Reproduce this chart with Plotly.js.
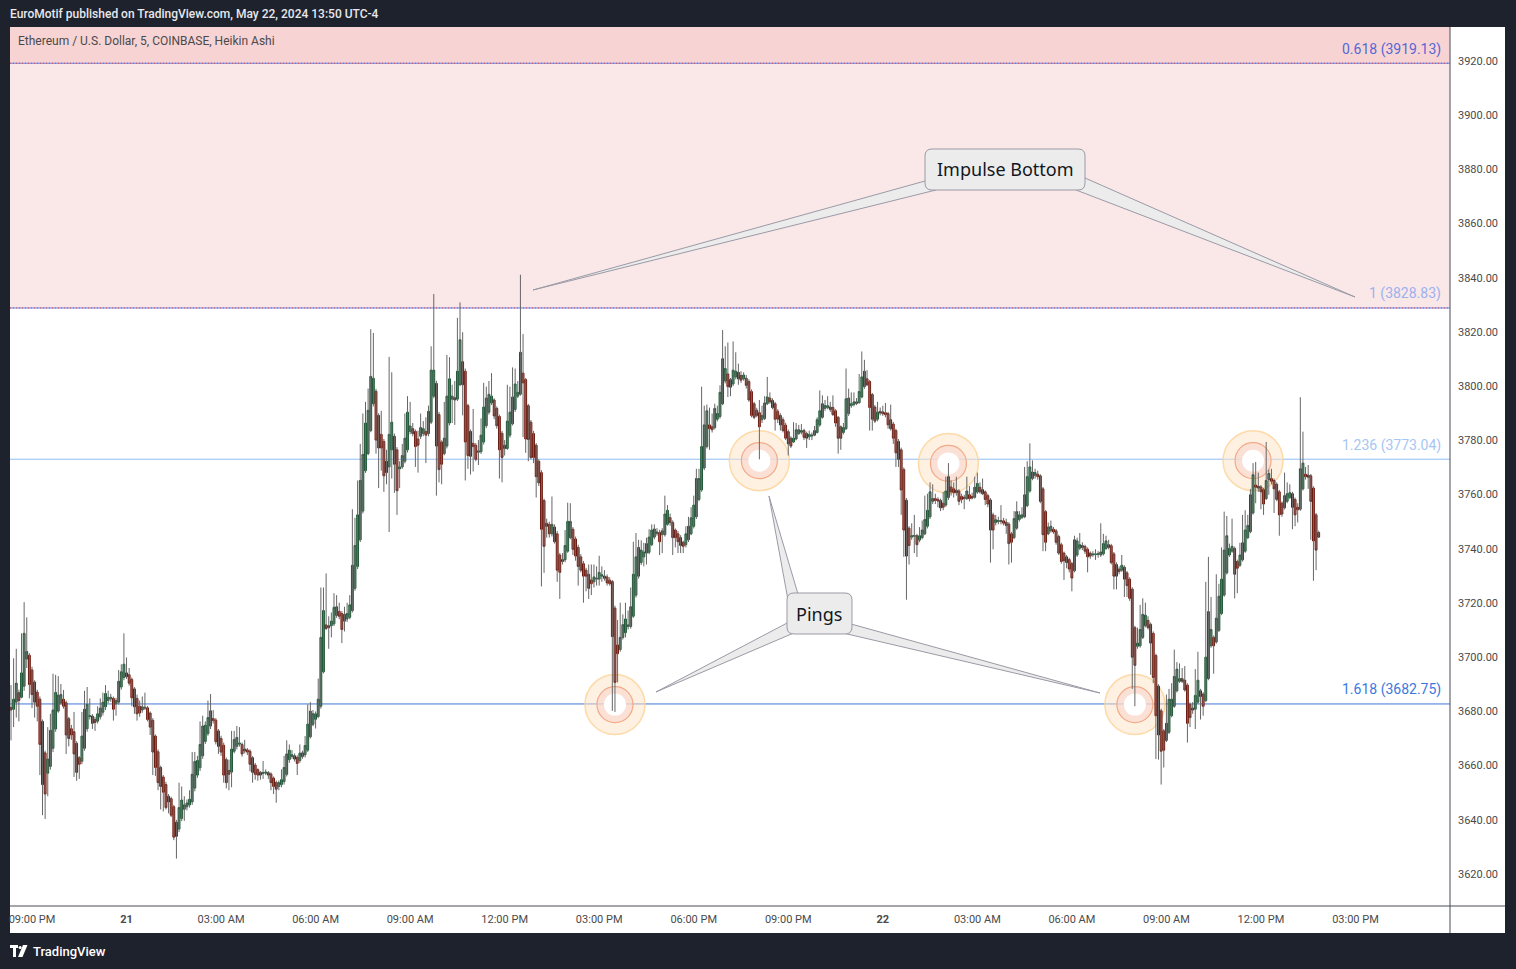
<!DOCTYPE html>
<html><head><meta charset="utf-8">
<script src="https://cdn.plot.ly/plotly-3.0.1.min.js"></script>
<style>html,body{margin:0;padding:0;background:#1e222d;overflow:hidden}#chart{width:1516px;height:969px}</style>
</head><body><div id="chart"></div>
<script>
// ---------------- DATA ----------------
const startTime = '2024-05-20T20:20:00Z';   // first 5-minute Heikin Ashi candle
const stepMinutes = 5;

const opens = [
3681.5,3680.8,3683.4,3686.9,3685.2,3689.3,3699.3,3700.7,3695.3,3690.8,
3687.1,3684.5,3676.3,3664.7,3657.2,3659.7,3666.4,3673.5,3680.1,3683.1,
3684.5,3683.2,3677.3,3673.6,3672.5,3668.2,3662.9,3661.6,3666.4,3673.6,
3678.1,3678.3,3677.0,3676.4,3678.0,3679.7,3681.7,3684.0,3684.6,3684.8,
3682.8,3683.4,3689.0,3692.5,3694.2,3693.5,3691.8,3688.3,3684.8,3681.9,
3680.5,3681.2,3681.3,3679.4,3676.7,3670.9,3665.1,3659.3,3655.8,3653.0,
3648.7,3647.8,3644.8,3639.1,3636.6,3640.5,3643.9,3644.8,3645.5,3646.6,
3651.7,3656.5,3659.2,3663.6,3668.9,3671.8,3674.6,3677.4,3676.8,3672.8,
3670.0,3667.5,3662.2,3658.2,3657.6,3665.3,3667.1,3667.9,3667.8,3666.1,
3665.8,3665.3,3662.9,3660.2,3658.5,3657.5,3657.1,3657.2,3657.4,3656.9,
3655.4,3653.8,3652.3,3653.0,3654.1,3656.8,3662.2,3663.4,3663.6,3663.0,
3661.9,3663.3,3664.0,3665.7,3670.6,3675.2,3677.1,3678.1,3681.9,3694.6,
3711.9,3711.6,3711.6,3712.3,3715.4,3716.9,3716.1,3713.3,3714.1,3714.7,
3717.2,3725.4,3733.5,3743.3,3753.9,3768.8,3775.1,3783.6,3793.5,3798.1,
3789.2,3782.2,3779.6,3772.3,3770.2,3776.5,3781.5,3776.5,3769.5,3770.2,
3772.3,3776.5,3783.3,3784.3,3783.3,3780.5,3781.5,3782.5,3783.3,3782.5,
3786.7,3796.3,3801.0,3789.5,3779.4,3775.1,3777.9,3786.4,3795.2,3795.7,
3795.2,3800.5,3809.0,3805.5,3792.8,3783.3,3778.9,3778.2,3775.6,3775.8,
3779.4,3785.4,3790.4,3793.8,3794.9,3791.8,3788.8,3782.6,3778.2,3777.0,
3781.9,3786.1,3791.4,3796.3,3797.0,3804.8,3802.4,3792.8,3786.7,3782.5,
3778.2,3772.3,3768.1,3757.8,3749.4,3749.0,3745.5,3748.0,3745.5,3737.7,
3736.0,3735.9,3739.1,3744.1,3747.2,3743.6,3740.5,3737.0,3734.5,3732.1,
3730.6,3728.5,3727.8,3728.8,3728.8,3729.9,3729.9,3729.6,3728.4,3727.9,
3718.1,3704.5,3702.8,3707.3,3709.0,3711.3,3711.3,3715.1,3722.9,3729.9,
3734.9,3737.0,3738.4,3738.7,3741.5,3744.3,3745.6,3746.0,3745.2,3745.2,
3749.0,3751.5,3749.7,3746.9,3745.5,3744.1,3742.4,3741.5,3743.3,3745.5,
3748.3,3751.8,3758.2,3761.7,3769.8,3777.7,3785.7,3785.0,3784.7,3787.8,
3788.8,3793.5,3801.9,3804.5,3802.4,3800.8,3803.4,3805.1,3803.9,3802.7,
3802.9,3801.7,3798.0,3793.5,3791.1,3790.2,3787.6,3788.1,3793.5,3795.6,
3794.7,3793.5,3790.7,3789.2,3787.6,3785.6,3783.2,3780.8,3779.4,3780.5,
3782.5,3783.0,3783.6,3782.5,3781.3,3781.6,3781.9,3782.9,3785.7,3788.5,
3791.8,3792.1,3792.3,3792.1,3790.9,3788.5,3785.0,3782.9,3784.3,3789.9,
3792.8,3793.2,3793.6,3793.9,3796.0,3799.8,3802.7,3801.7,3796.9,3792.3,
3787.8,3790.7,3790.5,3790.2,3789.9,3787.6,3786.0,3783.6,3779.6,3776.5,
3769.2,3757.9,3747.6,3744.3,3744.6,3744.8,3743.2,3744.1,3745.5,3748.3,
3751.8,3757.5,3758.5,3758.2,3757.8,3756.8,3756.1,3758.9,3762.8,3762.1,
3761.6,3761.3,3759.3,3759.0,3758.5,3759.9,3759.3,3759.0,3760.9,3762.7,
3761.8,3761.0,3759.6,3758.0,3752.5,3749.7,3750.0,3750.0,3750.3,3749.8,
3749.1,3745.5,3744.1,3747.6,3750.8,3751.5,3751.8,3755.9,3761.3,3765.9,
3767.1,3767.5,3766.9,3762.1,3753.7,3745.5,3746.6,3747.2,3746.6,3744.5,
3741.5,3738.4,3737.0,3736.0,3734.5,3731.9,3737.7,3740.2,3741.2,3740.8,
3739.8,3738.4,3737.8,3737.8,3738.0,3737.7,3738.1,3740.1,3741.5,3741.1,
3738.1,3734.2,3732.5,3732.1,3733.2,3731.1,3728.8,3725.1,3710.9,3704.0,
3704.2,3707.3,3711.6,3713.6,3712.1,3708.8,3700.6,3689.3,3680.2,3672.8,
3669.3,3672.3,3678.4,3681.9,3687.6,3691.1,3692.1,3691.5,3689.7,3682.6,
3681.2,3680.8,3683.4,3687.6,3686.4,3684.0,3692.1,3704.2,3707.3,3705.6,
3709.9,3716.1,3722.9,3731.1,3737.7,3739.1,3740.1,3735.3,3733.9,3735.9,
3739.1,3744.1,3746.3,3753.2,3763.5,3763.1,3762.8,3761.8,3758.5,3765.5,
3765.9,3765.2,3763.8,3761.0,3756.8,3755.1,3757.5,3758.9,3760.3,3758.2,
3755.3,3754.6,3762.1,3767.5,3767.2,3766.9,3762.4,3752.5,3746.0];

const highs = [
3689.7,3699.6,3703.1,3688.0,3708.8,3720.3,3714.7,3701.5,3696.5,3691.5,
3688.0,3685.5,3677.0,3665.5,3674.2,3679.1,3693.9,3693.5,3693.0,3690.1,
3687.9,3684.0,3678.0,3675.0,3679.8,3669.0,3663.5,3679.8,3687.6,3689.0,
3684.8,3679.0,3678.0,3681.9,3684.8,3686.9,3689.7,3687.6,3686.5,3685.5,
3685.0,3695.3,3697.4,3708.8,3699.9,3696.0,3692.5,3689.0,3686.2,3684.0,
3685.5,3686.9,3682.0,3680.0,3677.5,3671.5,3666.0,3660.0,3656.5,3654.0,
3649.5,3648.5,3645.5,3640.0,3653.7,3652.3,3648.7,3647.5,3650.9,3665.0,
3665.0,3663.6,3676.3,3678.4,3676.3,3684.0,3686.4,3680.5,3677.5,3673.5,
3671.0,3668.5,3663.0,3662.2,3672.8,3672.8,3674.6,3674.2,3668.5,3669.5,
3666.5,3666.0,3663.5,3661.0,3659.0,3658.0,3661.7,3658.6,3658.0,3657.5,
3656.0,3654.5,3654.5,3658.6,3663.6,3669.3,3667.8,3665.7,3664.5,3663.8,
3667.8,3665.5,3670.9,3682.6,3683.4,3680.5,3680.0,3692.1,3725.7,3725.7,
3730.9,3715.1,3716.5,3723.6,3722.9,3720.1,3717.0,3718.6,3720.1,3722.9,
3754.6,3751.4,3765.2,3778.7,3789.9,3794.2,3799.1,3821.0,3819.6,3799.0,
3790.0,3790.9,3780.5,3776.5,3810.8,3805.1,3782.5,3777.5,3772.3,3778.7,
3789.9,3796.3,3794.2,3786.4,3784.0,3783.6,3789.9,3787.1,3788.5,3792.8,
3814.7,3834.0,3802.0,3790.5,3780.0,3794.2,3811.5,3810.7,3800.5,3801.9,
3825.2,3830.9,3819.9,3806.5,3793.5,3784.0,3791.6,3779.0,3780.1,3788.1,
3801.2,3799.8,3801.9,3804.8,3795.5,3792.5,3789.5,3783.5,3780.1,3800.5,
3799.8,3806.9,3806.5,3801.9,3841.1,3819.2,3803.0,3793.5,3787.5,3783.5,
3779.0,3773.0,3769.0,3758.5,3751.1,3750.0,3759.3,3749.0,3746.5,3738.5,
3738.4,3746.9,3757.0,3756.8,3748.0,3744.5,3741.5,3738.0,3735.5,3733.0,
3734.2,3734.2,3734.2,3733.5,3737.4,3733.5,3732.1,3730.5,3729.5,3728.5,
3719.0,3713.7,3720.1,3715.8,3720.1,3717.2,3725.7,3742.6,3745.8,3743.3,
3743.1,3742.2,3744.1,3747.2,3749.0,3749.0,3747.6,3747.0,3747.6,3759.6,
3756.1,3753.0,3750.5,3747.5,3746.5,3745.0,3743.0,3748.3,3751.8,3755.3,
3759.6,3769.5,3769.5,3799.8,3792.8,3793.2,3792.1,3789.9,3793.5,3792.8,
3800.3,3820.7,3814.7,3816.1,3803.0,3816.5,3812.5,3808.3,3805.5,3805.1,
3804.1,3802.5,3798.8,3794.2,3792.0,3794.9,3792.8,3796.3,3803.4,3797.7,
3795.5,3794.2,3791.5,3790.0,3788.5,3786.5,3784.0,3781.5,3786.7,3786.4,
3785.7,3786.0,3784.3,3783.2,3783.6,3782.9,3785.3,3788.5,3798.4,3796.6,
3794.9,3796.3,3794.2,3796.6,3791.5,3789.0,3785.5,3786.4,3806.5,3799.1,
3797.7,3797.7,3795.6,3804.5,3812.8,3809.7,3805.9,3802.3,3797.5,3793.0,
3794.2,3792.1,3792.8,3793.8,3790.5,3793.2,3786.8,3784.3,3780.5,3777.3,
3770.0,3758.7,3748.3,3749.4,3752.5,3745.5,3748.0,3750.4,3759.6,3760.3,
3764.5,3763.8,3760.3,3759.0,3758.5,3761.0,3766.6,3771.6,3765.2,3764.5,
3766.6,3762.0,3760.3,3759.9,3766.6,3763.1,3760.7,3766.6,3768.1,3764.5,
3765.9,3761.5,3760.3,3758.7,3753.3,3752.5,3751.8,3756.1,3751.4,3751.1,
3749.8,3746.2,3753.9,3757.5,3753.9,3755.3,3770.2,3772.3,3778.9,3772.6,
3769.5,3768.8,3767.5,3762.8,3754.3,3749.7,3750.4,3748.0,3747.3,3745.2,
3742.2,3739.0,3737.7,3736.7,3735.2,3744.8,3744.1,3745.8,3742.4,3741.5,
3740.5,3739.0,3739.1,3739.8,3739.1,3749.4,3745.5,3744.8,3743.3,3741.8,
3738.8,3735.0,3733.5,3737.7,3733.9,3731.8,3729.5,3725.8,3711.6,3710.9,
3719.3,3721.7,3720.1,3715.1,3712.8,3709.5,3701.3,3690.0,3681.0,3673.5,
3686.2,3688.3,3690.4,3702.8,3698.2,3697.7,3696.0,3696.7,3690.4,3683.3,
3683.4,3695.6,3702.0,3688.3,3687.1,3727.8,3737.0,3722.2,3708.0,3730.6,
3727.1,3740.5,3753.7,3752.1,3741.9,3751.1,3740.8,3736.0,3742.2,3752.5,
3754.2,3752.5,3762.1,3771.6,3772.0,3768.1,3763.5,3762.5,3779.4,3769.2,
3769.5,3765.9,3764.5,3761.7,3757.5,3768.1,3764.5,3763.8,3761.0,3758.9,
3756.8,3795.9,3783.2,3770.2,3770.9,3767.6,3763.1,3753.2,3746.7];

const lows = [
3669.3,3674.2,3677.7,3676.3,3684.8,3687.6,3696.0,3684.8,3681.2,3677.7,
3676.3,3656.5,3641.7,3640.3,3648.7,3658.5,3665.0,3672.5,3679.5,3682.5,
3681.0,3664.3,3667.1,3669.5,3655.8,3654.4,3655.1,3660.5,3665.5,3672.5,
3677.0,3673.5,3672.8,3675.5,3677.0,3678.5,3680.5,3683.0,3683.5,3676.6,
3678.4,3682.5,3688.0,3691.5,3692.0,3689.5,3681.9,3679.1,3676.6,3678.0,
3679.5,3680.5,3676.3,3671.3,3656.5,3656.2,3650.9,3643.8,3643.1,3643.8,
3642.4,3641.0,3632.5,3625.7,3635.5,3639.5,3639.6,3643.5,3644.5,3645.5,
3650.5,3655.5,3658.0,3662.5,3668.0,3671.0,3673.5,3675.5,3667.8,3664.3,
3663.6,3653.7,3651.6,3650.9,3652.0,3664.5,3666.0,3667.0,3663.3,3664.5,
3663.9,3657.9,3653.7,3654.8,3654.4,3654.8,3655.1,3656.5,3655.1,3650.9,
3649.5,3646.3,3650.9,3652.0,3653.0,3656.0,3661.0,3662.5,3661.5,3656.5,
3661.0,3662.5,3663.0,3665.0,3670.0,3674.5,3673.7,3677.5,3681.0,3694.0,
3710.0,3703.1,3707.3,3711.5,3714.5,3714.0,3705.2,3709.5,3713.0,3714.0,
3716.5,3724.5,3732.5,3742.5,3753.0,3768.0,3774.5,3783.0,3792.5,3775.1,
3762.4,3768.8,3761.0,3763.8,3746.2,3765.9,3760.6,3752.5,3762.4,3769.5,
3771.5,3775.5,3782.2,3781.5,3770.2,3768.1,3780.5,3781.5,3771.6,3781.5,
3786.0,3795.5,3759.6,3764.5,3763.8,3774.5,3777.0,3785.5,3786.4,3785.7,
3794.5,3800.0,3789.2,3765.2,3769.5,3767.4,3768.5,3772.3,3770.9,3775.0,
3778.5,3784.5,3789.5,3793.0,3787.8,3784.3,3765.9,3764.5,3774.4,3776.5,
3781.0,3785.5,3790.5,3795.6,3796.5,3781.2,3775.4,3772.3,3773.0,3771.6,
3758.9,3763.1,3726.1,3731.1,3744.1,3744.1,3744.5,3741.9,3727.8,3721.5,
3734.2,3735.0,3738.5,3743.5,3737.7,3735.6,3726.4,3731.3,3720.1,3724.3,
3721.5,3722.9,3725.7,3726.4,3726.4,3727.8,3728.2,3726.4,3726.4,3680.2,
3679.8,3690.7,3702.0,3706.5,3707.3,3710.2,3710.5,3714.5,3722.0,3729.0,
3734.0,3733.5,3734.2,3738.0,3741.0,3743.5,3744.8,3737.7,3738.4,3744.5,
3748.5,3748.5,3737.7,3740.5,3738.4,3738.4,3738.4,3740.5,3742.5,3745.0,
3747.5,3751.0,3757.5,3761.0,3769.0,3777.0,3776.5,3782.9,3784.0,3787.0,
3788.0,3793.0,3801.0,3796.0,3796.3,3800.0,3802.5,3800.5,3801.2,3802.0,
3799.1,3794.2,3788.5,3787.8,3788.5,3773.0,3786.4,3787.5,3793.0,3793.5,
3791.5,3783.6,3786.4,3783.6,3782.9,3780.1,3774.4,3777.2,3779.0,3780.0,
3782.0,3782.2,3780.1,3777.2,3780.1,3780.1,3781.5,3782.5,3785.0,3788.0,
3790.9,3791.5,3790.5,3789.0,3785.0,3775.1,3776.5,3782.2,3783.8,3789.0,
3792.0,3792.5,3793.0,3793.5,3795.5,3799.0,3800.0,3783.6,3783.6,3786.4,
3787.0,3789.2,3789.0,3788.5,3784.3,3783.6,3778.7,3770.2,3770.2,3752.5,
3737.0,3721.2,3734.2,3743.3,3738.4,3737.0,3742.4,3743.5,3745.0,3747.5,
3751.0,3756.5,3756.5,3755.3,3753.9,3754.2,3755.5,3758.0,3759.6,3758.9,
3759.6,3756.1,3756.8,3754.6,3758.0,3757.5,3758.2,3758.5,3760.3,3760.3,
3759.8,3756.1,3755.3,3734.9,3739.8,3748.6,3749.0,3749.0,3748.6,3745.5,
3734.2,3734.9,3743.5,3747.0,3750.0,3751.0,3751.3,3755.3,3760.7,3765.3,
3765.9,3765.5,3756.8,3739.1,3739.1,3745.0,3746.0,3745.5,3741.5,3737.7,
3734.5,3728.5,3732.8,3731.3,3724.3,3731.3,3737.0,3739.5,3739.5,3738.1,
3731.3,3736.3,3737.0,3735.9,3736.7,3737.0,3737.5,3739.5,3739.8,3734.2,
3725.0,3725.0,3730.6,3731.5,3722.2,3722.2,3720.8,3688.3,3681.9,3703.1,
3703.5,3706.7,3711.0,3710.2,3693.5,3690.4,3662.4,3662.2,3653.0,3659.3,
3668.7,3671.7,3677.8,3681.3,3687.0,3690.5,3690.5,3687.3,3668.5,3674.2,
3679.1,3673.5,3682.8,3677.0,3678.4,3683.4,3691.5,3703.5,3693.9,3705.0,
3709.3,3715.5,3722.3,3730.5,3737.0,3738.5,3721.7,3723.6,3733.3,3735.3,
3738.5,3743.5,3745.7,3752.6,3756.8,3761.0,3754.6,3752.5,3758.0,3759.9,
3763.8,3753.2,3757.5,3744.8,3751.8,3754.5,3756.8,3758.3,3747.2,3748.3,
3749.7,3754.0,3761.5,3765.5,3762.1,3743.3,3728.2,3732.1,3744.1];

const closes = [
3680.5,3684.5,3690.4,3684.0,3694.2,3708.8,3702.1,3689.9,3686.2,3683.4,
3681.9,3667.8,3653.0,3649.5,3662.4,3673.0,3680.5,3687.0,3686.0,3686.2,
3681.9,3671.3,3670.0,3671.3,3664.3,3657.5,3660.5,3670.9,3680.8,3682.6,
3678.4,3675.6,3675.9,3679.1,3681.2,3683.4,3686.6,3685.2,3685.2,3680.8,
3684.0,3691.1,3694.6,3697.4,3692.8,3690.4,3685.0,3681.7,3679.1,3679.4,
3681.7,3681.5,3677.0,3674.2,3665.0,3659.3,3653.7,3652.3,3650.2,3644.5,
3646.6,3641.7,3633.6,3633.9,3644.5,3647.3,3645.5,3646.2,3647.6,3656.8,
3661.5,3661.9,3667.8,3674.6,3674.9,3677.7,3680.2,3676.6,3668.8,3667.1,
3665.0,3656.5,3653.7,3656.8,3666.1,3669.6,3670.4,3668.3,3664.3,3665.4,
3665.0,3660.5,3657.5,3656.8,3656.5,3656.5,3657.4,3657.6,3656.5,3653.7,
3652.3,3651.3,3653.7,3654.8,3659.3,3664.3,3665.7,3664.0,3662.4,3660.8,
3664.6,3664.7,3667.4,3675.3,3680.1,3679.1,3679.1,3684.5,3707.3,3717.2,
3710.6,3710.9,3713.3,3718.4,3718.6,3715.1,3710.2,3715.8,3716.1,3719.3,
3733.9,3741.2,3752.5,3765.2,3774.8,3786.4,3791.1,3803.6,3802.9,3780.1,
3777.2,3777.2,3766.9,3768.1,3782.2,3786.7,3771.2,3761.4,3770.2,3774.4,
3780.8,3790.4,3785.3,3782.5,3777.7,3778.2,3784.7,3784.3,3781.9,3790.7,
3805.9,3805.9,3777.9,3769.2,3771.2,3780.8,3796.3,3802.7,3796.3,3794.9,
3805.5,3817.1,3800.5,3779.4,3774.4,3774.1,3777.7,3773.0,3776.1,3781.9,
3792.3,3795.6,3797.0,3796.3,3789.0,3785.4,3776.5,3773.7,3777.0,3787.1,
3790.4,3796.0,3800.8,3797.7,3812.5,3801.2,3780.5,3780.3,3773.7,3773.7,
3766.6,3764.3,3747.2,3740.9,3748.3,3745.5,3749.0,3742.6,3732.1,3731.3,
3735.3,3741.2,3750.1,3750.1,3739.8,3737.3,3733.5,3732.1,3729.9,3729.9,
3725.4,3727.1,3729.6,3729.1,3731.3,3730.4,3729.1,3727.4,3727.1,3707.6,
3690.7,3701.3,3707.3,3712.0,3714.1,3711.9,3718.6,3730.6,3737.0,3740.5,
3739.5,3738.8,3741.9,3744.3,3746.9,3747.3,3746.2,3742.6,3746.6,3752.8,
3754.2,3749.7,3744.1,3744.1,3742.6,3741.2,3740.9,3745.5,3748.3,3751.4,
3756.1,3765.9,3765.9,3777.7,3785.7,3790.9,3784.3,3783.9,3791.8,3789.9,
3797.7,3810.1,3806.5,3799.8,3799.6,3805.9,3805.5,3802.7,3802.2,3804.1,
3800.3,3794.9,3789.2,3788.5,3789.2,3785.0,3789.2,3793.8,3796.0,3794.2,
3792.1,3787.8,3787.8,3785.7,3783.6,3780.8,3778.7,3777.9,3780.8,3783.9,
3783.9,3783.6,3781.1,3780.8,3782.2,3781.9,3783.6,3787.6,3790.9,3793.5,
3792.8,3792.8,3791.4,3789.5,3786.4,3780.8,3780.8,3784.7,3795.3,3795.6,
3793.5,3794.2,3794.2,3798.0,3803.4,3805.5,3800.5,3792.1,3787.8,3787.1,
3790.4,3790.1,3789.8,3789.5,3785.7,3784.3,3780.8,3775.4,3773.0,3761.7,
3746.9,3737.3,3741.2,3744.8,3744.9,3741.5,3744.8,3746.9,3750.8,3754.2,
3761.0,3758.5,3757.8,3757.6,3755.1,3755.3,3761.3,3766.6,3761.0,3760.7,
3760.7,3757.5,3758.2,3758.5,3761.3,3758.5,3758.7,3762.7,3764.1,3761.0,
3760.3,3758.2,3756.5,3746.9,3746.9,3750.7,3750.4,3750.4,3749.4,3748.6,
3741.9,3742.4,3751.1,3753.7,3752.5,3752.5,3759.9,3766.6,3770.2,3768.3,
3768.1,3766.6,3757.5,3745.2,3742.4,3748.0,3748.3,3746.2,3742.4,3738.4,
3735.3,3735.6,3734.9,3732.5,3729.2,3743.3,3742.9,3741.5,3740.5,3739.1,
3737.0,3737.3,3738.0,3738.1,3738.1,3738.8,3741.9,3742.9,3740.5,3734.9,
3729.9,3729.9,3731.6,3733.9,3728.8,3726.4,3721.7,3700.0,3697.0,3705.2,
3710.2,3715.8,3715.5,3710.9,3705.2,3692.5,3678.4,3671.3,3665.3,3665.7,
3675.6,3684.5,3684.5,3692.9,3695.6,3692.1,3691.1,3687.9,3675.6,3677.7,
3680.5,3685.9,3691.5,3685.5,3681.9,3700.0,3716.8,3710.2,3704.2,3714.4,
3722.5,3728.8,3739.5,3744.8,3740.1,3740.9,3730.6,3732.8,3737.7,3742.2,
3746.9,3748.6,3759.9,3767.3,3762.7,3762.4,3761.0,3756.5,3765.2,3767.8,
3764.9,3762.1,3758.2,3752.5,3752.8,3759.6,3760.3,3760.7,3755.3,3752.5,
3754.4,3769.5,3771.6,3766.6,3766.4,3757.5,3742.9,3739.5,3744.3];

const xTickVals = ['2024-05-20 21:00','2024-05-21 00:00','2024-05-21 03:00','2024-05-21 06:00','2024-05-21 09:00',
  '2024-05-21 12:00','2024-05-21 15:00','2024-05-21 18:00','2024-05-21 21:00','2024-05-22 00:00',
  '2024-05-22 03:00','2024-05-22 06:00','2024-05-22 09:00','2024-05-22 12:00','2024-05-22 15:00'];
const xTickText = ['09:00 PM','<b>21</b>','03:00 AM','06:00 AM','09:00 AM','12:00 PM','03:00 PM','06:00 PM',
  '09:00 PM','<b>22</b>','03:00 AM','06:00 AM','09:00 AM','12:00 PM','03:00 PM'];
const yTickVals = [3620,3640,3660,3680,3700,3720,3740,3760,3780,3800,3820,3840,3860,3880,3900,3920];

const fibRatios = ['0.618','1','1.236','1.618'];
const fibPrices = [3919.13, 3828.83, 3773.04, 3682.75];

const pingTimes = ['2024-05-21 15:30','2024-05-21 20:05','2024-05-22 02:05','2024-05-22 08:00','2024-05-22 11:45'];
const pingPrices = [3682.5, 3772.5, 3771.5, 3682.5, 3772.5];

const headerText = 'EuroMotif published on TradingView.com, May 22, 2024 13:50 UTC-4';
const symbolText = 'Ethereum / U.S. Dollar, 5, COINBASE, Heikin Ashi';
const calloutTop = 'Impulse Bottom';
const calloutBottom = 'Pings';

// ---------------- BUILD ----------------
const n = Math.min(opens.length, highs.length, lows.length, closes.length);
const t0 = Date.parse(startTime);
const times = [];
for (let i = 0; i < n; i++) times.push(new Date(t0 + i * stepMinutes * 60000).toISOString().slice(0, 19).replace('T', ' '));

const wx = [], wy = [];
for (let i = 0; i < n; i++) { wx.push(times[i], times[i], null); wy.push(lows[i], highs[i], null); }

const bodyHigh = [], bodyLow = [];
for (let i = 0; i < n; i++) { bodyHigh.push(Math.max(opens[i], closes[i])); bodyLow.push(Math.min(opens[i], closes[i])); }

const traces = [
  {type:'scatter', mode:'lines', x:wx, y:wy, line:{color:'#666666', width:1}, hoverinfo:'skip', showlegend:false},
  {type:'candlestick', x:times.slice(0,n), open:opens.slice(0,n), high:bodyHigh, low:bodyLow, close:closes.slice(0,n),
   whiskerwidth:0,
   increasing:{fillcolor:'#4f9a70', line:{color:'#1c5433', width:1}},
   decreasing:{fillcolor:'#df4129', line:{color:'#6a170c', width:1}},
   hoverinfo:'skip', showlegend:false}
];

// geometry helpers (pixel -> paper) for the decorative overlays
const PL = 10, PR = 1450, PT = 27, PB = 906;
const X = p => (p - PL) / (PR - PL);
const Y = p => (PB - p) / (PB - PT);
const poly = pts => 'M ' + pts.map(p => X(p[0]).toFixed(5) + ',' + Y(p[1]).toFixed(5)).join(' L ') + ' Z';
function rrect(x0, y0, x1, y1, r) {
  const P = (a, b) => X(a).toFixed(5) + ',' + Y(b).toFixed(5);
  return 'M ' + P(x0 + r, y0) + ' L ' + P(x1 - r, y0) + ' Q ' + P(x1, y0) + ' ' + P(x1, y0 + r) +
    ' L ' + P(x1, y1 - r) + ' Q ' + P(x1, y1) + ' ' + P(x1 - r, y1) +
    ' L ' + P(x0 + r, y1) + ' Q ' + P(x0, y1) + ' ' + P(x0, y1 - r) +
    ' L ' + P(x0, y0 + r) + ' Q ' + P(x0, y0) + ' ' + P(x0 + r, y0) + ' Z';
}

const yRange = [3608.2, 3932.5];
const shapes = [];
// white chart panel (incl. axis areas)
shapes.push({type:'rect', xref:'paper', yref:'paper', x0:0, x1:X(1505), y0:Y(933), y1:1, fillcolor:'#ffffff', line:{width:0}, layer:'below'});
// fib zones
shapes.push({type:'rect', xref:'paper', yref:'y', x0:0, x1:1, y0:fibPrices[0], y1:yRange[1], fillcolor:'#f7d3d4', line:{width:0}, layer:'below'});
shapes.push({type:'rect', xref:'paper', yref:'y', x0:0, x1:1, y0:fibPrices[1], y1:fibPrices[0], fillcolor:'#fae7e7', line:{width:0}, layer:'below'});
// fib lines
[0,1].forEach(k => {
  shapes.push({type:'line', xref:'paper', yref:'y', x0:0, x1:1, y0:fibPrices[k], y1:fibPrices[k], line:{color:'#6a7de0', width:1}, layer:'below'});
  shapes.push({type:'line', xref:'paper', yref:'y', x0:0, x1:1, y0:fibPrices[k], y1:fibPrices[k], line:{color:'#e04848', width:1, dash:'1px,2px'}, layer:'below'});
});
shapes.push({type:'line', xref:'paper', yref:'y', x0:0, x1:1, y0:fibPrices[2], y1:fibPrices[2], line:{color:'#8fbdf6', width:1}, layer:'below'});
shapes.push({type:'line', xref:'paper', yref:'y', x0:0, x1:1, y0:fibPrices[3], y1:fibPrices[3], line:{color:'#3f78d8', width:1}, layer:'below'});
// ping rings
pingTimes.forEach((t, k) => {
  const base = {type:'circle', xref:'x', yref:'y', xsizemode:'pixel', ysizemode:'pixel', xanchor:t, yanchor:pingPrices[k], layer:'below'};
  shapes.push(Object.assign({}, base, {x0:-30, x1:30, y0:-30, y1:30, fillcolor:'rgba(254,228,195,0.5)', line:{color:'rgba(252,210,150,0.8)', width:1.5}}));
  shapes.push(Object.assign({}, base, {x0:-18, x1:18, y0:-18, y1:18, fillcolor:'rgba(249,215,205,0.6)', line:{color:'#f2aa88', width:1.2}}));
  shapes.push(Object.assign({}, base, {x0:-11, x1:11, y0:-11, y1:11, fillcolor:'#ffffff', line:{width:0}}));
});
// panel borders
shapes.push({type:'line', xref:'paper', yref:'paper', x0:1, x1:1, y0:Y(933), y1:1, line:{color:'#4a4d57', width:1}, layer:'above'});
shapes.push({type:'line', xref:'paper', yref:'paper', x0:0, x1:X(1505), y0:0, y1:0, line:{color:'#4a4d57', width:1}, layer:'above'});
// callouts
const cFill = '#ececec', cLine = '#9a9aa6';
[
  [[925,181],[533,290],[936,190]],
  [[1085,178],[1355,297],[1076,190]],
  [[788,600],[769,496],[798,594]],
  [[789,622],[656,692],[796,632]],
  [[851,624],[1100,693],[843,633]]
].forEach(pts => shapes.push({type:'path', xref:'paper', yref:'paper', path:poly(pts), fillcolor:cFill, line:{color:cLine, width:1}, layer:'above'}));
shapes.push({type:'path', xref:'paper', yref:'paper', path:rrect(925, 149, 1085, 190, 7), fillcolor:cFill, line:{color:cLine, width:1}, layer:'above'});
shapes.push({type:'path', xref:'paper', yref:'paper', path:rrect(787, 593, 852, 634, 7), fillcolor:cFill, line:{color:cLine, width:1}, layer:'above'});
// TradingView logo
shapes.push({type:'path', xref:'paper', yref:'paper', path:poly([[10,945],[18,945],[18,948],[16,948],[16,957],[13,957],[13,948],[10,948]]), fillcolor:'#ffffff', line:{width:0}, layer:'above'});
shapes.push({type:'circle', xref:'paper', yref:'paper', x0:X(18.6), x1:X(21.6), y0:Y(949), y1:Y(946), fillcolor:'#ffffff', line:{width:0}, layer:'above'});
shapes.push({type:'path', xref:'paper', yref:'paper', path:poly([[23,945],[27.5,945],[22.5,957],[18,957]]), fillcolor:'#ffffff', line:{width:0}, layer:'above'});

const fibColors = ['#5468d4','#9bb2ef','#a6c6f4','#3b78de'];
const annotations = [
  {xref:'paper', yref:'paper', x:X(8), y:Y(14), xanchor:'left', yanchor:'middle', showarrow:false,
   text:headerText, font:{family:'Roboto, Liberation Sans, sans-serif', size:12, color:'#e6e8ee', weight:500}},
  {xref:'paper', yref:'paper', x:X(16), y:Y(41.5), xanchor:'left', yanchor:'middle', showarrow:false,
   text:symbolText, font:{family:'Roboto, Liberation Sans, sans-serif', size:12, color:'#4a4a4a'}},
  {xref:'paper', yref:'paper', x:X(1005), y:Y(169.5), xanchor:'center', yanchor:'middle', showarrow:false,
   text:calloutTop, font:{family:'Noto Sans, sans-serif', size:18, color:'#131722'}},
  {xref:'paper', yref:'paper', x:X(819.5), y:Y(613.5), xanchor:'center', yanchor:'middle', showarrow:false,
   text:calloutBottom, font:{family:'Noto Sans, sans-serif', size:18, color:'#131722'}},
  {xref:'paper', yref:'paper', x:X(31), y:Y(951), xanchor:'left', yanchor:'middle', showarrow:false,
   text:'TradingView', font:{family:'Roboto, Liberation Sans, sans-serif', size:13, color:'#ffffff', weight:500}}
];
fibPrices.forEach((p, k) => annotations.push({
  xref:'paper', yref:'y', x:X(1443), y:p, xanchor:'right', yanchor:'middle', yshift:14, showarrow:false,
  text:fibRatios[k] + ' (' + p.toFixed(2) + ')', font:{family:'Roboto, Liberation Sans, sans-serif', size:14, color:fibColors[k]}
}));

const layout = {
  width:1516, height:969,
  margin:{l:PL, r:1516 - PR, t:PT, b:969 - PB, pad:0},
  paper_bgcolor:'#1e222d', plot_bgcolor:'#ffffff',
  showlegend:false, hovermode:false, boxgap:0,
  xaxis:{type:'date', range:['2024-05-20 20:18:06','2024-05-22 18:00:00'], tickvals:xTickVals, ticktext:xTickText,
    showgrid:false, zeroline:false, showline:false, ticks:'', rangeslider:{visible:false}, fixedrange:true,
    tickfont:{family:'Roboto, Liberation Sans, sans-serif', size:11, color:'#4a4a4a'}, ticklabelstandoff:5},
  yaxis:{side:'right', range:yRange, tickvals:yTickVals, tickformat:'.2f', showgrid:false, zeroline:false, showline:false,
    ticks:'', fixedrange:true, tickfont:{family:'Roboto, Liberation Sans, sans-serif', size:11, color:'#4a4a4a'}, ticklabelstandoff:7},
  shapes:shapes, annotations:annotations
};

Plotly.newPlot('chart', traces, layout, {displayModeBar:false, staticPlot:true});
</script></body></html>
